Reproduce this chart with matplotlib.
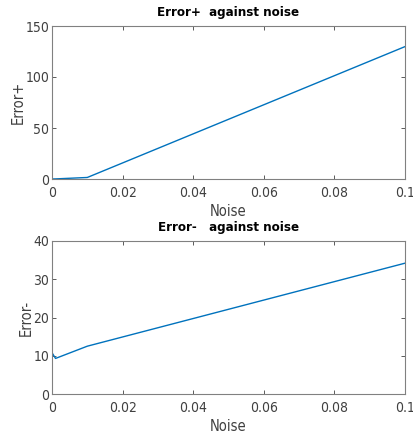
import matplotlib
matplotlib.use("Agg")
import matplotlib.pyplot as plt

noise = [0.0, 0.001, 0.01, 0.1]
err_plus = [0.0, 0.1, 1.5, 129.8]
err_minus = [10.8, 9.3, 12.5, 34.2]

xticks = [0, 0.02, 0.04, 0.06, 0.08, 0.1]
xticklabels = ["0", "0.02", "0.04", "0.06", "0.08", "0.1"]

plt.rcParams['font.family'] = ['DejaVu Sans']

fig = plt.figure(figsize=(4.14, 4.36), dpi=100)
W, H = 414, 436
line_color = "#0072BD"
grey = "#404040"

def setup(ax, y, yticks, ylim, title, ylabel):
    ax.plot(noise, y, color=line_color, lw=1.0)
    ax.set_xlim(0, 0.1)
    ax.set_ylim(*ylim)
    ax.set_xticks(xticks)
    ax.set_xticklabels(xticklabels, fontstretch='condensed')
    ax.set_yticks(yticks)
    ax.set_yticklabels([str(v) for v in yticks], fontstretch='condensed')
    ax.tick_params(direction='in', top=True, right=True, length=3, width=0.6,
                   colors=grey, labelsize=10)
    ax.tick_params(axis='x', pad=5)
    ax.tick_params(axis='y', pad=2)
    for s in ax.spines.values():
        s.set_color("#808080")
        s.set_linewidth(0.8)
    ax.set_title(title, fontsize=9.5, fontweight='bold', pad=7, fontstretch='condensed')
    ax.set_xlabel("Noise", fontsize=10.5, color=grey, labelpad=3, fontstretch='condensed')
    ax.set_ylabel(ylabel, fontsize=10.5, color=grey, labelpad=0, fontstretch='condensed')

ax1 = fig.add_axes([52 / W, 1 - 179 / H, (405 - 52) / W, (179 - 26) / H])
setup(ax1, err_plus, [0, 50, 100, 150], (0, 150), "Error+  against noise", "Error+")

ax2 = fig.add_axes([52 / W, 1 - 394 / H, (405 - 52) / W, (394 - 241) / H])
setup(ax2, err_minus, [0, 10, 20, 30, 40], (0, 40), "Error-   against noise", "Error-")

fig.savefig("out.png", dpi=100)
